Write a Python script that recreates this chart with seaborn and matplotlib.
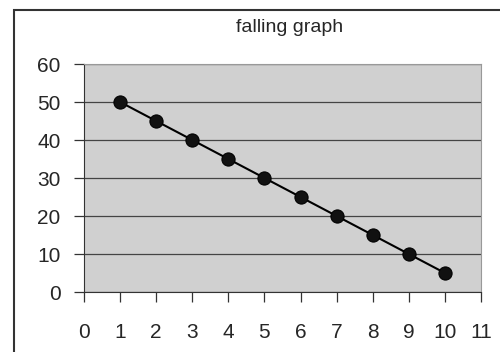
import matplotlib
matplotlib.use("Agg")
import matplotlib.pyplot as plt
import seaborn as sns
import pandas as pd
from matplotlib.patches import Rectangle

x_values = [1, 2, 3, 4, 5, 6, 7, 8, 9, 10]
y_values = [50, 45, 40, 35, 30, 25, 20, 15, 10, 5]
x_ticks = list(range(0, 12))
y_ticks = [0, 10, 20, 30, 40, 50, 60]
title = "falling graph"

df = pd.DataFrame({"x": x_values, "y": y_values})

sns.set_style("ticks")
plt.rcParams["font.family"] = ["Liberation Sans", "DejaVu Sans"]

fig = plt.figure(figsize=(5, 3.52), dpi=100)
ax = fig.add_axes([84/500, 1-292/352, (481-84)/500, (292-64)/352])
ax.set_facecolor("#d0d0d0")

sns.lineplot(data=df, x="x", y="y", ax=ax, color="black", linewidth=1.5,
             marker="o", markersize=9.5, markeredgecolor="black",
             markerfacecolor="#111111", zorder=5)

ax.set_xlim(0, 11)
ax.set_ylim(0, 60)
ax.set_xticks(x_ticks)
ax.set_yticks(y_ticks)
ax.set_xlabel("")
ax.set_ylabel("")
ax.yaxis.grid(True, color="#444444", linewidth=0.9)
ax.xaxis.grid(False)
ax.set_axisbelow(True)

for s in ["top", "right"]:
    ax.spines[s].set_visible(True)
    ax.spines[s].set_color("#999999")
    ax.spines[s].set_linewidth(0.8)
ax.spines["left"].set_color("#333333")
ax.spines["bottom"].set_color("#333333")
ax.tick_params(axis="y", direction="out", left=True, length=7, width=0.9,
               color="#333333", labelsize=15, pad=10)
ax.tick_params(axis="x", direction="out", bottom=True, length=7, width=0.9,
               color="#333333", labelsize=15, pad=15)

fig.text(290/500, 1-28/352, title, ha="center", va="center", fontsize=14)

frame = Rectangle((14/500, -0.1), 1.2, 1-10/352+0.1, transform=fig.transFigure,
                  fill=False, edgecolor="#333333", linewidth=1.5, clip_on=False)
fig.patches.append(frame)

fig.savefig("out.png", dpi=100)
